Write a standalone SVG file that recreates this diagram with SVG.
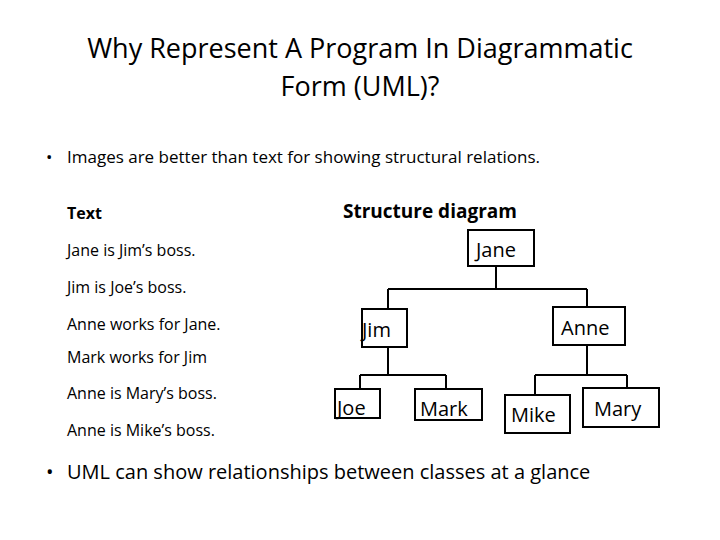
<svg xmlns="http://www.w3.org/2000/svg" width="720" height="540" viewBox="0 0 720 540">
<style>
text{font-family:"Open Sans","DejaVu Sans",sans-serif;fill:#000}
.b{fill:#fff;stroke:#000;stroke-width:2}
.n{font-size:20px}
.t{font-size:16px}
.c{fill:none;stroke:#000;stroke-width:2}
</style>
<rect width="720" height="540" fill="#fff"/>
<text x="360" y="58" text-anchor="middle" font-size="27">Why Represent A Program In Diagrammatic</text>
<text x="360" y="96" text-anchor="middle" font-size="27">Form (UML)?</text>
<text x="46" y="163" font-size="17">•</text>
<text x="67" y="163" font-size="17">Images are better than text for showing structural relations.</text>
<text x="67" y="219" class="t" font-weight="bold">Text</text>
<text x="343" y="218" font-size="19" font-weight="bold">Structure diagram</text>
<text x="67" y="256" class="t">Jane is Jim’s boss.</text>
<text x="67" y="293" class="t">Jim is Joe’s boss.</text>
<text x="67" y="330" class="t">Anne works for Jane.</text>
<text x="67" y="363" class="t">Mark works for Jim</text>
<text x="67" y="399" class="t">Anne is Mary’s boss.</text>
<text x="67" y="436" class="t">Anne is Mike’s boss.</text>
<g id="connectors">
<path class="c" d="M496 266V289M388 289H587M388 289V309M587 289V307"/>
<path class="c" d="M388 347V375M360 375H446M360 375V389M446 375V389"/>
<path class="c" d="M587 345V375M535 375H627M535 375V395M627 375V388"/>
</g>
<g id="jane"><rect class="b" x="468" y="230" width="66" height="36"/><text class="n" x="476" y="257">Jane</text></g>
<g id="jim"><rect class="b" x="362" y="309" width="45" height="38"/><text class="n" x="362" y="337">Jim</text></g>
<g id="anne"><rect class="b" x="553" y="307" width="72" height="38"/><text class="n" x="561" y="335">Anne</text></g>
<g id="joe"><rect class="b" x="335" y="389" width="45" height="29"/><text class="n" x="337" y="415">Joe</text></g>
<g id="mark"><rect class="b" x="415" y="389" width="67" height="31"/><text class="n" x="420" y="416">Mark</text></g>
<g id="mike"><rect class="b" x="505" y="395" width="65" height="38"/><text class="n" x="511" y="422">Mike</text></g>
<g id="mary"><rect class="b" x="583" y="388" width="76" height="39"/><text class="n" x="594" y="416">Mary</text></g>
<text x="46" y="479" font-size="20">•</text>
<text x="67" y="479" font-size="20">UML can show relationships between classes at a glance</text>
</svg>
